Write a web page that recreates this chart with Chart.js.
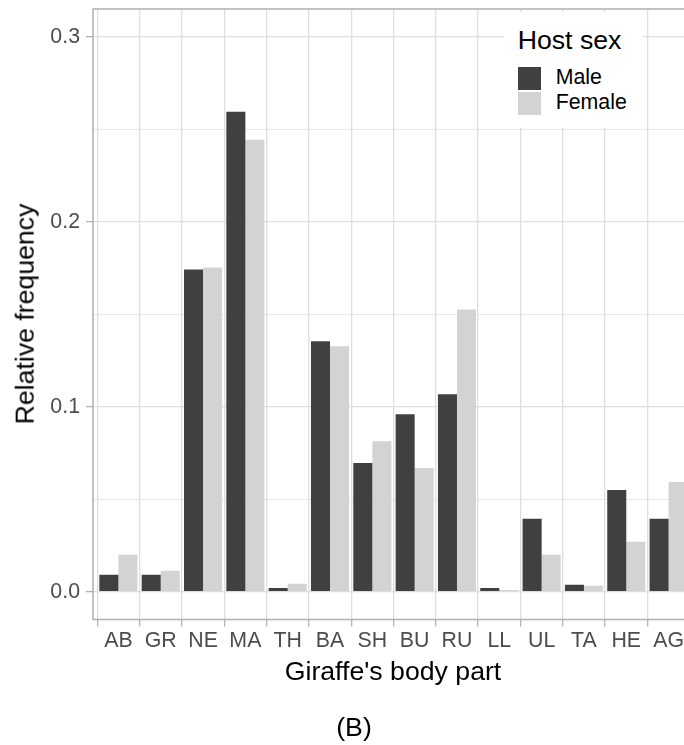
<!DOCTYPE html>
<html>
<head>
<meta charset="utf-8">
<script src="https://cdn.jsdelivr.net/npm/chart.js@4.4.1/dist/chart.umd.min.js"></script>
<style>
  html, body { margin: 0; padding: 0; overflow: hidden; background: #ffffff; }
  #wrap { position: relative; width: 708px; height: 745px; font-family: "Liberation Sans", Arial, Helvetica, sans-serif; }
  canvas { position: absolute; left: 0; top: 0; }
  .t { position: absolute; white-space: nowrap; line-height: 1; color: #000; }
  #legend { position: absolute; background: #ffffff; }
  .key { position: absolute; width: 23px; height: 23px; }
</style>
</head>
<body>
<div id="wrap">
  <canvas id="c" width="708" height="745"></canvas>
  <div class="t" id="ytitle" style="font-size:26.67px; left:24.8px; top:314px; transform:translate(-50%,-50%) rotate(-90deg);"></div>
  <div class="t" id="xtitle" style="font-size:26.67px; left:393px; top:658.4px; transform:translateX(-50%);"></div>
  <div class="t" id="caption" style="font-size:26.67px; left:354px; top:714.1px; transform:translateX(-50%);"></div>
  <div id="legend" style="left:504px; top:12px; width:139px; height:116px;"></div>
</div>
<script>
// ---- data ----
const categories = ["AB", "GR", "NE", "MA", "TH", "BA", "SH", "BU", "RU", "LL", "UL", "TA", "HE", "AG"];
const maleValues   = [0.0092, 0.0092, 0.1742, 0.2594, 0.0020, 0.1354, 0.0696, 0.0960, 0.1068, 0.0020, 0.0394, 0.0038, 0.0550, 0.0394];
const femaleValues = [0.0200, 0.0113, 0.1753, 0.2443, 0.0043, 0.1327, 0.0814, 0.0669, 0.1526, 0.0009, 0.0200, 0.0032, 0.0270, 0.0593];
const seriesNames = ["Male", "Female"];
const yMajorTicks = [0, 0.1, 0.2, 0.3];
const yTickLabels = ["0.0", "0.1", "0.2", "0.3"];
const yMinorTicks = [0.05, 0.15, 0.25];
const xTitle = "Giraffe's body part";
const yTitle = "Relative frequency";
const legendTitle = "Host sex";
const captionText = "(B)";

// ---- styles ----
const seriesColors = ["#404040", "#D3D3D3"];
const FONT = "'Liberation Sans', Arial, Helvetica, sans-serif";
const GRID = "#DEDEDE";
const BORDER = "#B3B3B3";
const TICKTXT = "#4D4D4D";

document.getElementById('ytitle').textContent = yTitle;
document.getElementById('xtitle').textContent = xTitle;
document.getElementById('caption').textContent = captionText;

// legend built from series arrays
const legend = document.getElementById('legend');
const lt = document.createElement('div');
lt.className = 't';
lt.style.cssText = 'font-size:26.67px; left:13.7px; top:14.7px;';
lt.textContent = legendTitle;
legend.appendChild(lt);
seriesNames.forEach((name, i) => {
  const k = document.createElement('div');
  k.className = 'key';
  k.style.left = '14px';
  k.style.top = (55 + i * 24.5) + 'px';
  k.style.background = seriesColors[i];
  legend.appendChild(k);
  const l = document.createElement('div');
  l.className = 't';
  l.style.cssText = 'font-size:21.33px; left:51.7px;';
  l.style.top = (55 + i * 25) + 'px';
  l.textContent = name;
  legend.appendChild(l);
});

const toPoints = arr => arr.map((v, i) => ({ x: i + 1, y: v }));

const yTicksAll = yMajorTicks.map((v, i) => ({ value: v, label: yTickLabels[i], minor: false }))
  .concat(yMinorTicks.map(v => ({ value: v, label: '', minor: true })))
  .sort((a, b) => a.value - b.value);

const borderPlugin = {
  id: 'panelBorder',
  afterDatasetsDraw(chart) {
    const a = chart.chartArea;
    const ctx = chart.ctx;
    ctx.save();
    ctx.strokeStyle = BORDER;
    ctx.lineWidth = 1.6;
    ctx.strokeRect(a.left, a.top, a.right - a.left, a.bottom - a.top);
    ctx.restore();
  }
};

new Chart(document.getElementById('c'), {
  type: 'bar',
  data: {
    datasets: seriesNames.map((name, i) => ({
      label: name,
      data: toPoints(i === 0 ? maleValues : femaleValues),
      backgroundColor: seriesColors[i],
      borderWidth: 0,
      categoryPercentage: 0.9,
      barPercentage: 1.0
    }))
  },
  plugins: [borderPlugin],
  options: {
    responsive: false,
    animation: false,
    devicePixelRatio: 1,
    layout: { padding: { top: 9, right: 14, left: 0, bottom: 0 } },
    plugins: { legend: { display: false }, tooltip: { enabled: false }, title: { display: false } },
    scales: {
      x: {
        type: 'linear',
        min: 0.4,
        max: 14.6,
        offset: false,
        afterBuildTicks: s => { s.ticks = categories.map((c, i) => ({ value: i + 1 })); },
        afterFit: s => { s.height = 745 - 619.5; s.paddingLeft = 0; s.paddingRight = 0; },
        ticks: {
          autoSkip: false,
          maxRotation: 0,
          minRotation: 0,
          padding: 2,
          color: TICKTXT,
          font: { family: FONT, size: 21.33 },
          callback: (v) => categories[Math.round(v) - 1]
        },
        grid: { color: GRID, lineWidth: 1.3, tickColor: BORDER, tickLength: 7, tickWidth: 1.3 },
        border: { display: false }
      },
      y: {
        type: 'linear',
        min: -0.015,
        max: 0.315,
        afterBuildTicks: s => { s.ticks = yTicksAll.map(t => ({ value: t.value, minor: t.minor, lbl: t.label })); },
        afterFit: s => { s.width = 93; s.paddingTop = 0; s.paddingBottom = 0; },
        ticks: {
          padding: 6,
          color: TICKTXT,
          font: { family: FONT, size: 21.33 },
          callback: (v, i, ticks) => ticks[i].lbl
        },
        grid: {
          color: GRID,
          lineWidth: ctx => (ctx.tick && ctx.tick.minor) ? 0.7 : 1.3,
          tickColor: ctx => (ctx.tick && ctx.tick.minor) ? 'rgba(0,0,0,0)' : BORDER,
          tickLength: 7,
          tickWidth: 1.3
        },
        border: { display: false }
      }
    }
  }
});
</script>
</body>
</html>
